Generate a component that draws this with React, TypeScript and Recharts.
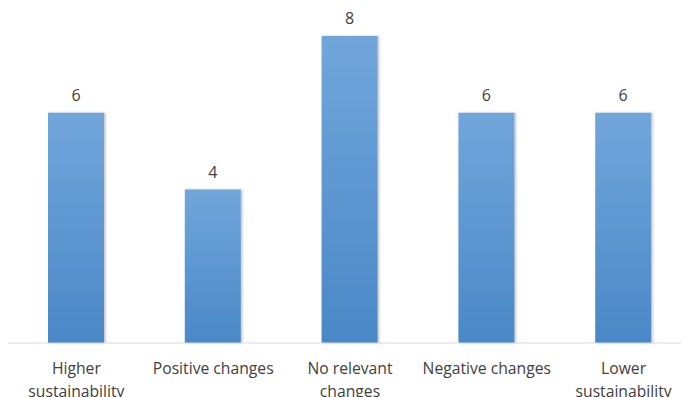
import { BarChart, Bar, XAxis, YAxis, LabelList } from "recharts"

const categories = [
  "Higher sustainability",
  "Positive changes",
  "No relevant changes",
  "Negative changes",
  "Lower sustainability",
]
const counts = [6, 4, 8, 6, 6]

// wrapped labels for the axis (lines per category)
const tickLines: Record<string, string[]> = {
  "Higher sustainability": ["Higher", "sustainability"],
  "Positive changes": ["Positive changes"],
  "No relevant changes": ["No relevant", "changes"],
  "Negative changes": ["Negative changes"],
  "Lower sustainability": ["Lower", "sustainability"],
}

const data = categories.map((name, i) => ({ name, value: counts[i] }))

const font = "'Open Sans', 'Liberation Sans', sans-serif"

const CategoryTick = ({ x, y, payload }: any) => {
  const lines = tickLines[payload.value] || [payload.value]
  return (
    <text x={x} y={y} textAnchor="middle" fill="#404040" fontSize={15.7} fontFamily={font}>
      {lines.map((l, i) => (
        <tspan key={i} x={x} dy={23}>{l}</tspan>
      ))}
    </text>
  )
}

export default function App() {
  return (
    <div style={{ position: "absolute", left: 0, top: 0, width: 681, height: 397, overflow: "hidden", background: "#fff" }}>
      <BarChart
        width={700}
        height={397}
        data={data}
        margin={{ top: 36, right: 8, bottom: 0, left: 8 }}
        barSize={56}
      >
        <defs>
          <linearGradient id="barFill" x1="0" y1="0" x2="0" y2="1">
            <stop offset="0%" stopColor="#71A6DB" />
            <stop offset="100%" stopColor="#4A88C7" />
          </linearGradient>
          <filter id="barShadow" x="-20%" y="-5%" width="140%" height="110%">
            <feDropShadow dx="1.5" dy="0" stdDeviation="1.2" floodColor="#000" floodOpacity="0.25" />
          </filter>
        </defs>
        <XAxis
          dataKey="name"
          axisLine={{ stroke: "#D9D9D9", strokeWidth: 1 }}
          tickLine={false}
          tick={<CategoryTick />}
          height={54}
          interval={0}
        />
        <YAxis hide domain={[0, 8]} />
        <Bar dataKey="value" fill="url(#barFill)" filter="url(#barShadow)" isAnimationActive={false}>
          <LabelList dataKey="value" position="top" offset={12} fill="#404040" fontSize={16} fontFamily={font} />
        </Bar>
      </BarChart>
    </div>
  )
}
